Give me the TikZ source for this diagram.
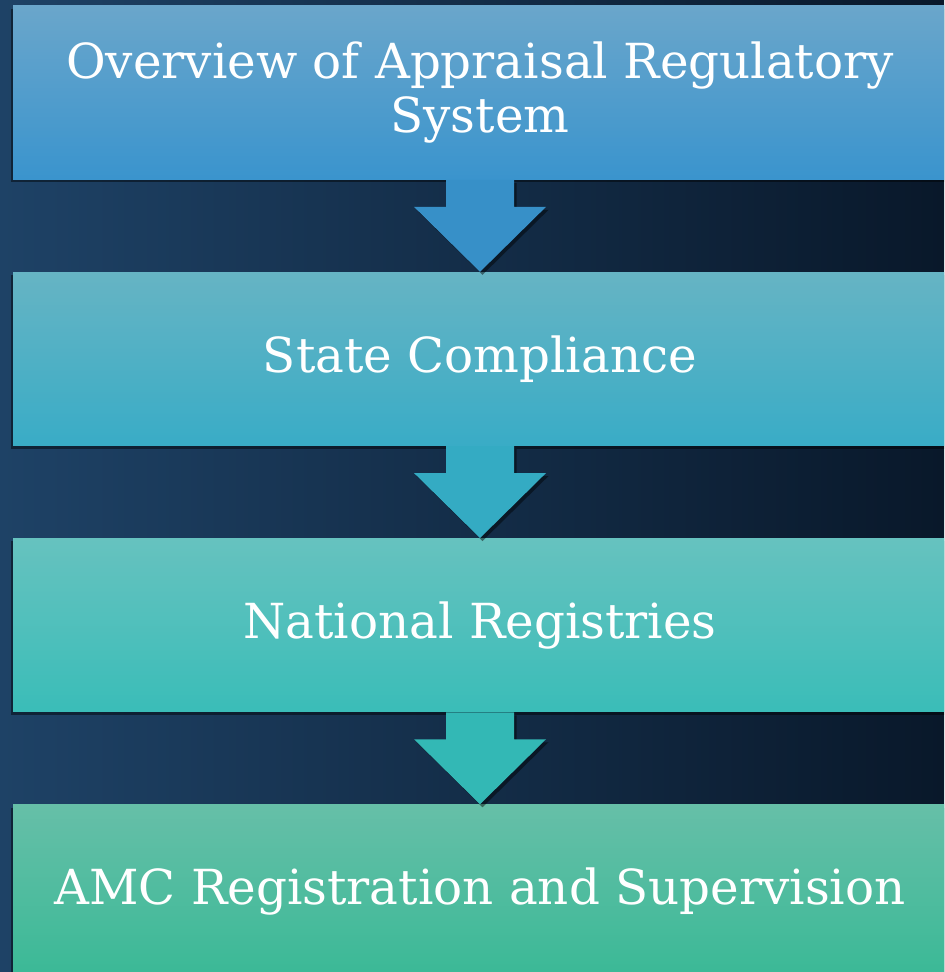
\documentclass[tikz,border=0pt]{standalone}
\usepackage{fontspec}
\setmainfont{DejaVu Serif}
\usepackage{tikz}
\usetikzlibrary{positioning,calc,shadows}

\definecolor{bgleft}{HTML}{1E4266}
\definecolor{bgright}{HTML}{09182A}
\definecolor{topA}{HTML}{6AA6CB}\definecolor{botA}{HTML}{3A94CD}
\definecolor{topB}{HTML}{66B4C4}\definecolor{botB}{HTML}{39ACC6}
\definecolor{topC}{HTML}{66C2BF}\definecolor{botC}{HTML}{3ABDB8}
\definecolor{topD}{HTML}{66BFA8}\definecolor{botD}{HTML}{3AB996}
\definecolor{arrA}{HTML}{3790C8}
\definecolor{arrB}{HTML}{34ABC3}
\definecolor{arrC}{HTML}{33B8B5}

\begin{document}
\begin{tikzpicture}[
  stagebox/.style={rectangle, minimum width=18.68cm, minimum height=3.47cm,
    inner sep=0pt, text=white, align=center,
    font=\fontsize{27.5}{30.7}\selectfont,
    drop shadow={shadow xshift=-0.5mm, shadow yshift=-0.6mm, fill=black, opacity=0.45}},
  flowarrow/.style={drop shadow={shadow xshift=0.5mm, shadow yshift=-0.6mm, fill=black, opacity=0.45}},
  node distance=1.84cm]

%background
\clip (0,0) rectangle (18.88,19.44);
\shade[left color=bgleft, right color=bgright] (0,0) rectangle (18.88,19.44);

%boxes
\node[stagebox, top color=topA, bottom color=botA] (overview) at (9.6,17.585)
  {Overview of Appraisal Regulatory\\System};
\node[stagebox, top color=topB, bottom color=botB, below=of overview] (state)
  {State Compliance};
\node[stagebox, top color=topC, bottom color=botC, below=of state] (registries)
  {National Registries};
\node[stagebox, top color=topD, bottom color=botD, below=of registries] (amc)
  {AMC Registration and Supervision};

%arrows
\foreach \from/\to/\col in {overview/state/arrA, registries/amc/arrC, state/registries/arrB}
  \fill[\col, flowarrow] ([xshift=-0.68cm]\from.south)
    -- ([xshift=-0.68cm, yshift=1.3cm]\to.north)
    -- ([xshift=-1.32cm, yshift=1.3cm]\to.north)
    -- (\to.north)
    -- ([xshift=1.32cm, yshift=1.3cm]\to.north)
    -- ([xshift=0.68cm, yshift=1.3cm]\to.north)
    -- ([xshift=0.68cm]\from.south) -- cycle;
\end{tikzpicture}
\end{document}
